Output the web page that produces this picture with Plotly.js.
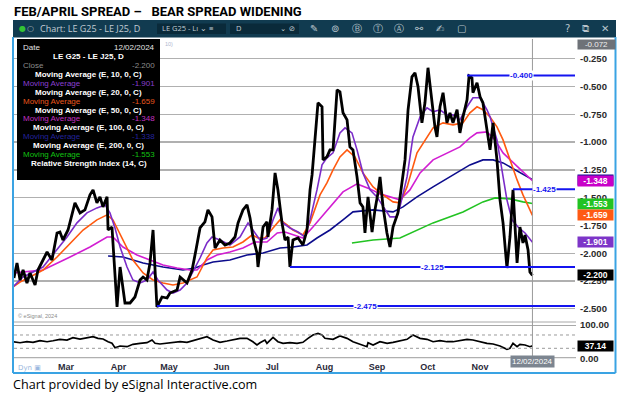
<!DOCTYPE html>
<html><head><meta charset="utf-8">
<script src="https://cdn.plot.ly/plotly-3.0.1.min.js"></script>
<style>html,body{margin:0;padding:0;background:#fff;}#chart{width:629px;height:399px;}</style>
</head><body><div id="chart"></div>
<script>
// ---------------- DATA (x = day of year 2024) ----------------
const closeDay = [30.2,32.0,33.8,35.6,37.9,39.7,42.7,44.4,47.4,49.8,52.7,55.7,57.4,59.2,62.2,64.6,66.3,69.3,72.2,75.2,77.0,79.3,81.1,82.9,85.3,85.9,88.2,91.2,93.0,95.9,98.9,101.8,104.8,106.6,108.9,110.7,112.5,114.8,117.8,120.8,122.5,126.7,128.5,132.6,135.6,137.9,140.3,143.2,145.0,147.4,149.2,152.1,155.1,158.0,161.0,162.8,165.7,168.1,169.9,171.6,174.0,174.6,175.8,177.6,179.9,180.5,182.9,184.7,186.4,188.8,190.6,192.4,193.5,195.3,198.3,201.2,203.6,205.4,206.6,208.3,210.1,212.5,213.1,215.4,217.2,219.0,221.4,223.1,224.9,227.3,229.0,230.8,233.2,235.0,236.7,237.9,239.7,242.1,243.8,245.6,246.8,248.6,250.9,252.7,254.5,257.4,259.8,261.6,263.4,265.7,267.5,269.3,271.6,273.4,275.2,277.6,279.3,280.5,282.3,284.1,286.4,288.2,290.0,292.4,294.1,295.9,298.3,299.5,301.2,301.8,304.2,306.0,307.7,310.1,311.9,313.7,316.0,317.8,319.6,321.9,323.7,325.5,327.9,329.6,331.4,332.6,334.4,335.5,337.0];
const closeVal = [-2.223,-2.088,-2.241,-2.151,-2.268,-2.178,-2.286,-2.151,-2.061,-1.989,-2.061,-1.818,-1.809,-1.881,-1.791,-1.637,-1.547,-1.637,-1.610,-1.475,-1.430,-1.547,-1.493,-1.583,-1.493,-1.791,-1.764,-2.484,-2.124,-2.448,-2.448,-2.394,-2.241,-2.214,-2.241,-2.088,-1.791,-2.484,-2.394,-2.403,-2.358,-2.331,-2.214,-2.268,-2.151,-1.971,-1.772,-1.718,-1.610,-1.673,-1.953,-1.881,-1.926,-1.908,-1.854,-1.727,-1.610,-1.565,-1.682,-1.854,-1.998,-2.124,-1.971,-1.764,-1.718,-1.854,-1.610,-1.277,-1.430,-1.727,-1.881,-1.854,-2.124,-1.881,-1.863,-1.926,-1.791,-1.430,-1.295,-0.953,-0.646,-0.682,-1.160,-1.133,-1.070,-1.070,-0.529,-0.547,-0.736,-0.800,-1.043,-1.070,-1.313,-1.547,-1.583,-1.818,-1.493,-1.809,-1.610,-1.457,-1.313,-1.583,-1.818,-1.944,-1.764,-1.637,-1.367,-1.160,-0.709,-0.412,-0.376,-0.502,-0.827,-0.646,-0.331,-0.619,-0.863,-0.953,-0.682,-0.556,-0.827,-0.736,-0.827,-0.709,-0.917,-0.773,-0.619,-0.405,-0.421,-0.556,-0.466,-0.592,-0.646,-0.890,-1.070,-0.827,-1.160,-1.520,-1.727,-2.133,-1.854,-1.430,-2.088,-1.764,-1.908,-1.836,-1.971,-2.169,-2.200];

const ma10Day = [29.6,35.6,47.4,55.7,61.6,67.5,73.4,79.3,84.1,87.0,90.0,93.0,97.1,100.6,104.8,108.9,112.5,115.4,120.8,124.3,128.5,132.6,136.1,140.3,144.4,147.4,152.1,158.0,164.0,168.7,171.6,175.8,179.9,183.5,186.4,189.4,193.5,198.3,202.4,205.4,209.5,212.5,215.4,219.0,223.1,226.1,230.2,233.2,236.7,240.9,245.0,248.6,252.7,256.8,258.6,262.8,266.3,270.5,274.6,278.2,282.3,286.4,290.0,294.1,298.3,301.8,306.0,310.1,311.9,316.0,319.0,321.9,324.9,328.5,332.6,337.0];
const ma10Val = [-2.304,-2.214,-2.124,-1.971,-1.854,-1.727,-1.637,-1.592,-1.565,-1.637,-1.773,-1.944,-2.124,-2.241,-2.268,-2.241,-2.169,-2.241,-2.331,-2.358,-2.331,-2.268,-2.169,-2.043,-1.908,-1.854,-1.881,-1.926,-1.854,-1.727,-1.791,-1.881,-1.863,-1.700,-1.592,-1.727,-1.773,-1.809,-1.854,-1.700,-1.430,-1.205,-1.142,-1.097,-0.917,-0.872,-0.917,-1.070,-1.277,-1.430,-1.493,-1.583,-1.673,-1.673,-1.583,-1.313,-0.953,-0.773,-0.691,-0.727,-0.709,-0.755,-0.755,-0.800,-0.682,-0.601,-0.601,-0.709,-0.773,-0.980,-1.250,-1.520,-1.700,-1.764,-1.818,-1.901];

const ma20Day = [29.6,33.8,39.7,47.4,55.7,63.4,71.1,79.3,85.3,88.8,94.7,100.6,106.6,112.5,118.4,124.3,130.2,138.5,144.4,148.0,153.9,159.8,165.7,171.1,174.6,178.7,183.5,187.6,191.8,195.3,201.2,205.4,211.3,215.4,219.0,223.1,227.3,232.0,236.7,242.7,248.6,254.5,258.6,262.8,268.7,274.6,278.2,284.1,290.0,295.9,300.0,304.2,307.7,311.9,316.0,319.6,323.7,327.9,331.4,337.0];
const ma20Val = [-2.304,-2.259,-2.214,-2.151,-2.034,-1.908,-1.791,-1.700,-1.655,-1.700,-1.881,-2.061,-2.178,-2.241,-2.268,-2.286,-2.268,-2.214,-2.043,-1.971,-1.953,-1.944,-1.899,-1.836,-1.863,-1.863,-1.773,-1.700,-1.745,-1.791,-1.836,-1.727,-1.475,-1.367,-1.250,-1.133,-1.070,-1.133,-1.277,-1.403,-1.475,-1.538,-1.547,-1.403,-1.097,-0.953,-0.872,-0.827,-0.845,-0.827,-0.736,-0.682,-0.709,-0.773,-0.863,-0.980,-1.160,-1.340,-1.475,-1.659];

const ma50Day = [29.6,47.4,63.4,75.2,85.3,88.8,94.7,103.0,110.7,118.4,126.7,134.4,138.5,144.4,150.3,158.0,165.7,172.8,179.9,186.0,190.6,195.3,201.2,207.1,213.1,219.0,224.9,233.2,240.9,246.8,254.5,258.6,264.5,270.5,278.2,286.4,294.1,300.0,304.2,310.1,314.9,319.6,325.5,331.4,337.0];
const ma50Val = [-2.178,-2.151,-2.034,-1.944,-1.854,-1.854,-1.944,-2.016,-2.061,-2.106,-2.133,-2.151,-2.151,-2.061,-2.016,-1.989,-1.953,-1.899,-1.899,-1.818,-1.809,-1.836,-1.863,-1.764,-1.655,-1.547,-1.448,-1.376,-1.421,-1.466,-1.502,-1.520,-1.430,-1.277,-1.160,-1.097,-1.043,-0.962,-0.917,-0.908,-0.980,-1.097,-1.187,-1.268,-1.348];

const ma100Day = [85.9,94.7,106.6,118.4,130.2,137.3,142.1,148.0,158.0,168.1,177.6,187.6,195.3,203.6,209.5,217.2,224.9,230.8,242.7,254.5,260.4,268.7,278.2,290.0,300.0,307.7,313.7,319.6,329.6,337.0];
const ma100Val = [-2.025,-2.034,-2.088,-2.124,-2.151,-2.133,-2.106,-2.079,-2.061,-2.016,-1.998,-1.953,-1.944,-1.926,-1.863,-1.791,-1.700,-1.628,-1.610,-1.628,-1.583,-1.493,-1.403,-1.295,-1.205,-1.160,-1.160,-1.187,-1.277,-1.338];

const ma200Day = [230.2,242.7,258.6,278.2,295.9,307.7,314.9,323.7,331.4,337.0];
const ma200Val = [-1.908,-1.881,-1.863,-1.727,-1.628,-1.538,-1.502,-1.511,-1.538,-1.553];

const rsiDay = [29.6,33.8,37.9,41.5,45.6,49.8,53.3,57.4,61.6,65.1,69.3,73.4,77.0,79.9,82.9,85.9,88.2,90.0,93.0,97.1,100.6,104.8,108.9,111.9,113.7,116.6,120.8,124.3,128.5,132.6,136.1,140.3,144.4,148.0,152.1,156.3,159.8,164.0,168.1,171.6,174.0,175.8,178.7,179.9,183.5,186.4,189.4,193.5,197.7,201.2,204.2,207.1,210.1,212.5,214.2,219.0,223.1,227.3,230.8,235.0,239.1,239.7,242.7,246.8,251.0,254.5,258.6,262.8,266.3,270.5,274.6,278.2,282.3,286.4,290.0,294.1,298.3,301.8,306.0,310.1,313.7,317.8,321.9,323.7,325.5,327.9,329.6,332.6,335.5,337.0];
const rsiVal = [49.8,46.8,49.8,48.0,52.8,49.8,52.8,57.0,54.9,61.8,57.9,61.8,64.8,60.0,57.9,49.8,45.0,31.8,36.9,34.8,42.0,45.0,46.8,54.9,45.0,42.9,45.0,46.8,49.8,48.0,52.8,60.0,64.8,54.9,48.0,51.9,54.9,60.0,60.0,49.8,39.9,46.8,54.9,45.0,63.0,49.8,45.0,46.8,45.0,48.0,60.0,69.9,75.0,69.9,60.0,57.0,66.9,60.0,49.8,42.9,34.8,46.8,39.9,49.8,45.0,48.0,52.8,57.0,69.9,60.0,57.0,49.8,52.8,49.8,49.8,52.8,57.0,54.9,49.8,45.0,42.9,36.9,27.0,30.0,45.0,34.8,42.0,39.9,34.8,37.14];

const monthTickDay = [61,92,122,153,183,214,245,275,306];
const monthTickText = ['Mar','Apr','May','Jun','Jul','Aug','Sep','Oct','Nov'];
const lastDateText = '12/02/2024';
const lastDay = 337;
const levelVals = [-0.400,-1.425,-2.125,-2.475];
const levelStartDay = [298.3,325.5,193.5,114.8];
const rsiGuides = [30,70];
const axisTop = -0.072, axisBottom = -2.619;
const chartTitle = 'FEB/APRIL SPREAD \u2013\u00a0\u00a0\u00a0BEAR SPREAD WIDENING';
const captionText = 'Chart provided by eSignal Interactive.com';
const symbolText = 'LE G25 - LE J25, D';

// ---------------- helpers ----------------
const W = 629, H = 399;
const PX = x => x / W, PY = y => 1 - y / H;
const xStart = 30.23, xEnd = 362.18;
const last = a => a[a.length - 1];

const C = {close:'#000000', ma10:'#7b2cc9', ma20:'#ff5a10', ma50:'#d21ed2', ma100:'#0c0c8c', ma200:'#22c322', level:'#1414f0'};

const traces = [
  {x:ma200Day, y:ma200Val, mode:'lines', line:{color:C.ma200, width:1.6}},
  {x:ma100Day, y:ma100Val, mode:'lines', line:{color:C.ma100, width:1.6}},
  {x:ma50Day, y:ma50Val, mode:'lines', line:{color:C.ma50, width:1.6}},
  {x:ma20Day, y:ma20Val, mode:'lines', line:{color:C.ma20, width:1.6}},
  {x:ma10Day, y:ma10Val, mode:'lines', line:{color:C.ma10, width:1.6}},
  {x:closeDay, y:closeVal, mode:'lines', line:{color:C.close, width:2.8}},
  {x:rsiDay, y:rsiVal, mode:'lines', line:{color:'#000', width:1.7}, yaxis:'y2'}
];
traces.forEach(t => { t.hoverinfo = 'skip'; t.showlegend = false; });

const tickVals = [];
for (let v = -0.25; v >= -2.5001; v -= 0.25) tickVals.push(+v.toFixed(3));

const shapes = [];
const ann = [];
const F = 'Liberation Sans, Arial, sans-serif';

// header bar and frame
shapes.push({type:'rect', xref:'paper', yref:'paper', x0:PX(13), x1:PX(616), y0:PY(37.5), y1:PY(20), fillcolor:'#113b50', line:{width:0}, layer:'below'});
shapes.push({type:'rect', xref:'paper', yref:'paper', x0:PX(157), x1:PX(226), y0:PY(34), y1:PY(23.5), fillcolor:'#0a2a3a', line:{width:0}});
shapes.push({type:'rect', xref:'paper', yref:'paper', x0:PX(230), x1:PX(299), y0:PY(34), y1:PY(23.5), fillcolor:'#0a2a3a', line:{width:0}});
[[13,37,13,373],[615.5,37,615.5,373],[13,373,615.5,373]].forEach(s => shapes.push({type:'line', xref:'paper', yref:'paper', x0:PX(s[0]), y0:PY(s[1]), x1:PX(s[2]), y1:PY(s[3]), line:{color:'#3aa3e3', width:2}}));
// panel separators
[322,325.5].forEach(y => shapes.push({type:'line', xref:'paper', yref:'paper', x0:PX(14), x1:PX(576), y0:PY(y), y1:PY(y), line:{color:'#a8a8a8', width:1}}));
// rsi guides
rsiGuides.forEach(g => shapes.push({type:'line', xref:'paper', yref:'y2', x0:PX(14), x1:PX(576), y0:g, y1:g, line:{color:'#9a9a9a', width:1, dash:'dot'}}));
shapes.push({type:'line', xref:'paper', yref:'y2', x0:PX(14), x1:PX(576), y0:0, y1:0, line:{color:'#b0b0b0', width:2.5}});
// crosshair
shapes.push({type:'line', xref:'x', yref:'paper', x0:lastDay, x1:lastDay, y0:PY(362), y1:PY(39), line:{color:'#999', width:1}});
// level lines
levelVals.forEach((v,i) => {
  shapes.push({type:'line', xref:'x', yref:'y', x0:levelStartDay[i], x1:xEnd, y0:v, y1:v, line:{color:C.level, width:2}});
  ann.push({xref:'x', yref:'y', x:(levelStartDay[i]+xEnd)/2, y:v, text:'<b>'+v.toFixed(3)+'</b>', showarrow:false, bgcolor:'#fff', borderpad:0, font:{family:F, size:8, color:C.level}});
});
// legend box
shapes.push({type:'rect', xref:'paper', yref:'paper', x0:PX(17), x1:PX(160), y0:PY(180), y1:PY(39), fillcolor:'#000', line:{width:0}});

// legend rows
const rows = [
  {l:'Date', r:lastDateText, c:'#e4e4e4'},
  {m:symbolText},
  {l:'Close', r:last(closeVal).toFixed(3), c:'#8c8c8c'},
  {m:'Moving Average (E, 10, 0, C)'},
  {l:'Moving Average', r:last(ma10Val).toFixed(3), c:'#8a3fd0'},
  {m:'Moving Average (E, 20, 0, C)'},
  {l:'Moving Average', r:last(ma20Val).toFixed(3), c:'#e8561c'},
  {m:'Moving Average (E, 50, 0, C)'},
  {l:'Moving Average', r:last(ma50Val).toFixed(3), c:'#c030c0'},
  {m:'Moving Average (E, 100, 0, C)'},
  {l:'Moving Average', r:last(ma100Val).toFixed(3), c:'#23239c'},
  {m:'Moving Average (E, 200, 0, C)'},
  {l:'Moving Average', r:last(ma200Val).toFixed(3), c:'#12c012'},
  {m:'Relative Strength Index (14, C)'}
];
rows.forEach((r,i) => {
  const y = PY(47.7 + i*8.9);
  if (r.m) ann.push({xref:'paper', yref:'paper', x:PX(88.5), y:y, text:'<b>'+r.m+'</b>', showarrow:false, xanchor:'center', yanchor:'middle', font:{family:F, size:8, color:'#fff'}});
  else {
    ann.push({xref:'paper', yref:'paper', x:PX(21), y:y, text:r.l, showarrow:false, xanchor:'left', yanchor:'middle', font:{family:F, size:8, color:r.c}});
    ann.push({xref:'paper', yref:'paper', x:PX(157), y:y, text:r.r, showarrow:false, xanchor:'right', yanchor:'middle', font:{family:F, size:8, color:r.c}});
  }
});

// right value boxes
const boxes = [
  {v:last(ma100Val), bg:'#101090'},
  {v:last(ma50Val), bg:'#c800c8'},
  {v:last(ma200Val), bg:'#22c322'},
  {v:last(ma20Val), bg:'#ff5a14'},
  {v:last(ma10Val), bg:'#7d35c8'},
  {v:last(closeVal), bg:'#000'}
];
boxes.forEach(b => ann.push({xref:'paper', yref:'y', x:PX(577), y:b.v, xanchor:'left', yanchor:'middle', text:'<b>'+b.v.toFixed(3)+'</b>', showarrow:false, bgcolor:b.bg, width:34, height:9, borderpad:0.5, align:'center', font:{family:F, size:8.5, color:'#fff'}}));
ann.push({xref:'paper', yref:'y2', x:PX(577), y:last(rsiVal), xanchor:'left', yanchor:'middle', text:'<b>'+last(rsiVal).toFixed(2)+'</b>', showarrow:false, bgcolor:'#000', width:34, height:9, borderpad:0.5, font:{family:F, size:8.5, color:'#fff'}});
ann.push({xref:'paper', yref:'y', x:PX(577), y:axisTop, xanchor:'left', yanchor:'top', text:axisTop.toFixed(3), showarrow:false, bgcolor:'#6e7278', width:36, height:8, borderpad:0.5, font:{family:F, size:8, color:'#eee'}});
// date box
ann.push({xref:'x', yref:'paper', x:lastDay, y:PY(367.5), text:lastDateText, showarrow:false, bgcolor:'#7c8590', borderpad:1, font:{family:F, size:8, color:'#fff'}});

// header texts
const hdr = (x, t, opt={}) => ann.push(Object.assign({xref:'paper', yref:'paper', x:PX(x), y:PY(28.5), text:t, showarrow:false, xanchor:'left', yanchor:'middle', font:{family:'DejaVu Sans, sans-serif', size:8.5, color:'#c2ccd4'}}, opt));
hdr(17, '\u25CF', {font:{family:'DejaVu Sans', size:8, color:'#34c434'}});
hdr(25, '\u25CB', {font:{family:'DejaVu Sans', size:8, color:'#aab4bc'}});
hdr(38, 'Chart: ' + symbolText, {font:{family:'Open Sans, sans-serif', size:9, color:'#c2ccd4'}});
hdr(160, 'LE G25 - L\u0131 \u2304 \u2261', {font:{family:'Open Sans, sans-serif', size:7.5, color:'#c2ccd4'}});
hdr(234, 'D', {font:{family:'Open Sans, sans-serif', size:7.5, color:'#c2ccd4'}});
hdr(278, '\u2304 \u2298', {font:{family:'DejaVu Sans', size:7.5, color:'#c2ccd4'}});
['\u270E','\u229A','\u24B7','\u24C9','\u24B6','\u26AF','\u270D','\u25A2'].forEach((s,i) => hdr(308 + i*21, s, {font:{family:'DejaVu Sans', size:10, color:'#b8c4cc'}}));
hdr(563, '?', {font:{family:'DejaVu Sans', size:10, color:'#b8c4cc'}});
hdr(580, '\u29C9', {font:{family:'DejaVu Sans', size:10, color:'#b8c4cc'}});
hdr(599, '\u2715', {font:{family:'DejaVu Sans', size:10, color:'#b8c4cc'}});

// misc texts
ann.push({xref:'paper', yref:'paper', x:PX(12), y:PY(11), text:'<b>'+chartTitle+'</b>', showarrow:false, xanchor:'left', yanchor:'middle', font:{family:'Roboto, sans-serif', size:13, color:'#000'}});
ann.push({xref:'paper', yref:'paper', x:PX(11), y:PY(384), text:captionText, showarrow:false, xanchor:'left', yanchor:'middle', font:{family:'Open Sans, sans-serif', size:12.6, color:'#000'}});
ann.push({xref:'paper', yref:'paper', x:PX(16), y:PY(316), text:'\u00A9 eSignal, 2024', showarrow:false, xanchor:'left', yanchor:'middle', font:{family:F, size:5.5, color:'#8a8a8a'}});
ann.push({xref:'paper', yref:'paper', x:PX(163), y:PY(44), text:'10)', showarrow:false, xanchor:'left', yanchor:'middle', font:{family:F, size:5.5, color:'#b0b8d0'}});
ann.push({xref:'paper', yref:'paper', x:PX(16), y:PY(367.5), text:'Dyn \u25A3', showarrow:false, xanchor:'left', yanchor:'middle', font:{family:'DejaVu Sans', size:7, color:'#9ab8e0'}});

const layout = {
  width:W, height:H, margin:{l:0, r:0, t:0, b:0},
  paper_bgcolor:'#fff', plot_bgcolor:'#fff', showlegend:false,
  xaxis:{domain:[PX(14), PX(575)], range:[xStart, xEnd], anchor:'y2', tickmode:'array', tickvals:monthTickDay, ticktext:monthTickText, showgrid:false, zeroline:false, showline:false, ticks:'', tickfont:{family:F, size:9, color:'#2a2a3a', weight:'bold'}, ticklabelstandoff:2, fixedrange:true},
  yaxis:{domain:[PY(322), PY(39)], range:[axisBottom, axisTop], side:'right', anchor:'x', tickmode:'array', tickvals:tickVals, ticktext:tickVals.map(v => v.toFixed(3)), showgrid:true, gridcolor:'#b0b0b0', gridwidth:1.4, zeroline:false, showline:false, ticks:'', ticklabelstandoff:4, tickfont:{family:F, size:9.5, color:'#2a2a2a', weight:'bold'}},
  yaxis2:{domain:[PY(358.3), PY(325)], range:[0, 100], side:'right', anchor:'x', tickmode:'array', tickvals:[0,100], ticktext:['0.00','100.00'], showgrid:true, gridcolor:'#b0b0b0', gridwidth:1.4, zeroline:false, showline:false, ticks:'', ticklabelstandoff:4, tickfont:{family:F, size:9.5, color:'#2a2a2a', weight:'bold'}},
  shapes:shapes, annotations:ann
};
Plotly.newPlot('chart', traces, layout, {staticPlot:true, displayModeBar:false});
</script></body></html>
